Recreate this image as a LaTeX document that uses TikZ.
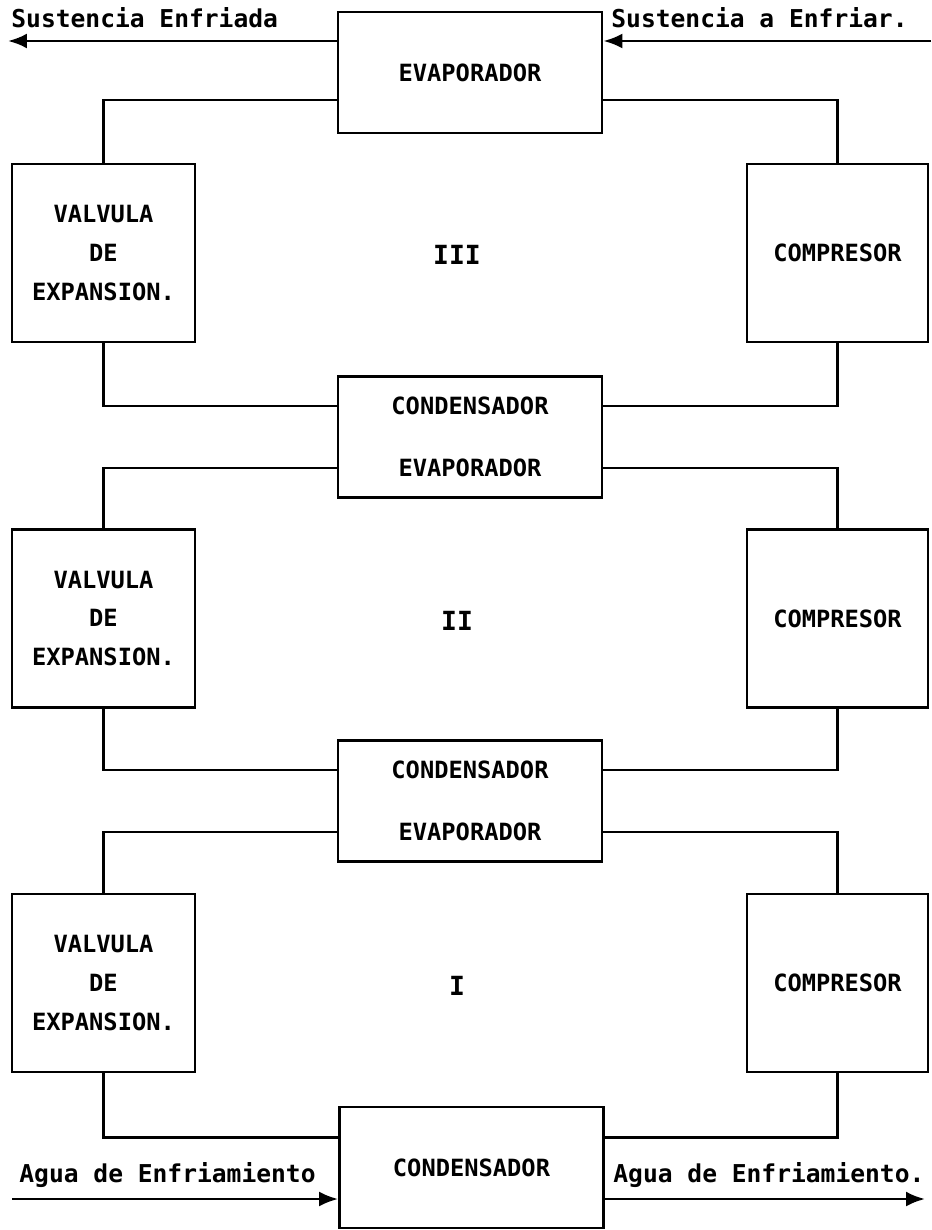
\documentclass[tikz,border=0pt]{standalone}
\usepackage{fontspec}
\setmonofont{DejaVu Sans Mono}
\usetikzlibrary{positioning,arrows.meta}

\tikzset{
  block/.style={draw, line width=1.6pt, minimum width=5.28cm, minimum height=2.42cm,
    inner sep=0pt, align=center, font=\ttfamily\bfseries\fontsize{13.5}{35}\selectfont},
  valv/.style={draw, line width=1.6pt, minimum width=3.66cm, minimum height=3.56cm,
    inner sep=0pt, align=center, font=\ttfamily\bfseries\fontsize{13.5}{22}\selectfont},
  comp/.style={draw, line width=1.6pt, minimum width=3.62cm, minimum height=3.56cm,
    inner sep=0pt, font=\ttfamily\bfseries\fontsize{13.5}{16}\selectfont},
  num/.style={font=\ttfamily\bfseries\fontsize{15}{16}\selectfont},
  rotulo/.style={anchor=base west, inner sep=0pt, font=\ttfamily\bfseries\fontsize{14}{17}\selectfont},
  flujo/.style={-{Latex[length=3.8mm,width=3mm]}, line width=1.6pt}
}

\begin{document}
\begin{tikzpicture}[x=0.02cm, y=-0.02cm, line width=1.6pt]
  \useasboundingbox (0,0) rectangle (931,1230);

  % bloques centrales
  \node[block] (evap) at (470,72.5) {EVAPORADOR};
  \node[block] (ce3) at (470,437) {CONDENSADOR\\EVAPORADOR};
  \node[block] (ce2) at (470,801) {CONDENSADOR\\EVAPORADOR};
  \node[block] (cond) at (471.5,1167.5) {CONDENSADOR};

  % valvulas y compresores de cada etapa
  \foreach \n/\y in {3/253, 2/618.5, 1/983} {
    \node[valv] (val\n) at (103.5,\y) {VALVULA\\DE\\EXPANSION.};
    \node[comp] (comp\n) at (837.5,\y) {COMPRESOR};
  }
  \node[num] (etapa3) at (457,255) {III};
  \node[num] (etapa2) at (457,621) {II};
  \node[num] (etapa1) at (457,986) {I};

  % tuberias
  \draw ([yshift=-0.55cm]evap.west) -| (val3.north);
  \draw ([yshift=-0.55cm]evap.east) -| (comp3.north);
  \foreach \a/\b/\c in {3/ce3/2, 2/ce2/1} {
    \draw (val\a.south) |- ([yshift=0.62cm]\b.west);
    \draw (comp\a.south) |- ([yshift=0.62cm]\b.east);
    \draw ([yshift=-0.62cm]\b.west) -| (val\c.north);
    \draw ([yshift=-0.62cm]\b.east) -| (comp\c.north);
  }
  \draw (val1.south) |- ([yshift=0.6cm]cond.west);
  \draw (comp1.south) |- ([yshift=0.6cm]cond.east);

  % flujos de entrada y salida
  \coordinate (salida) at (8,41);
  \coordinate (entrada) at (931,41);
  \coordinate (aguain) at (12,1199);
  \coordinate (aguaout) at (925,1199);
  \draw[flujo] (evap.west |- salida) -- (salida);
  \draw[flujo] (entrada) -- (entrada -| evap.east);
  \draw[flujo] (aguain) -- (aguain -| cond.west);
  \draw[flujo] (aguain -| cond.east) -- (aguaout);

  \node[rotulo] (enfriada) at (10,28) {Sustencia Enfriada};
  \node[rotulo] (enfriar) at (610,28) {Sustencia a Enfriar.};
  \node[rotulo] (aguaizq) at (18,1182) {Agua de Enfriamiento};
  \node[rotulo] (aguader) at (612,1182) {Agua de Enfriamiento.};
\end{tikzpicture}
\end{document}
